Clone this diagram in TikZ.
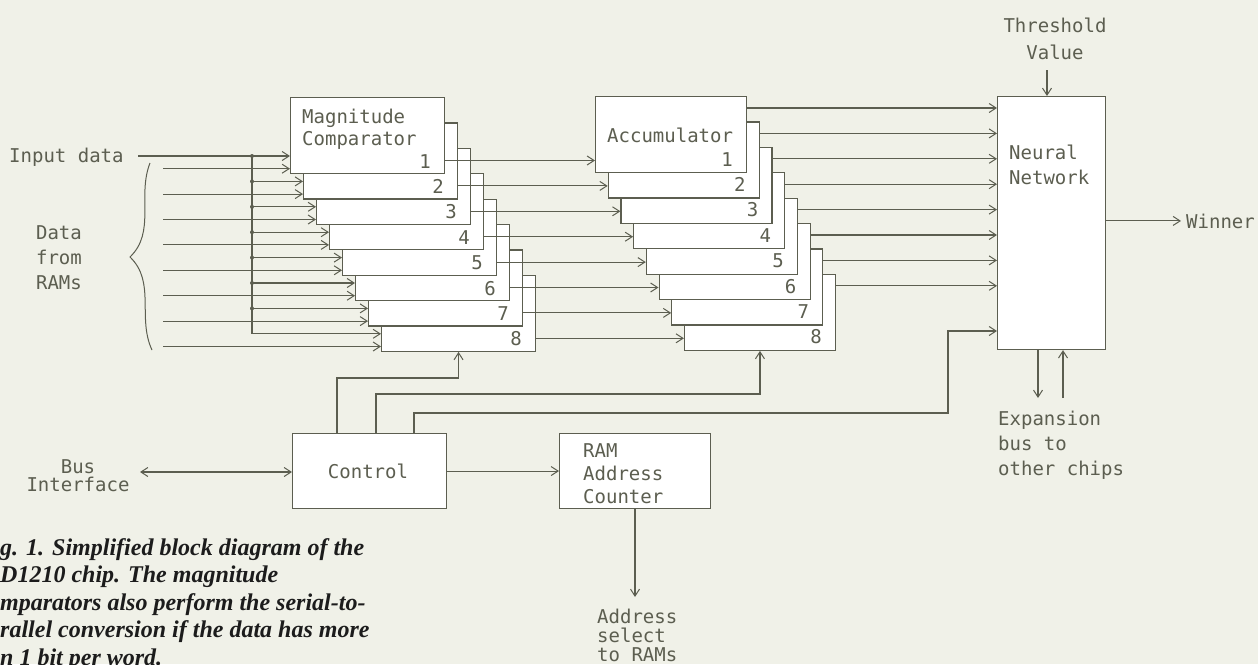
\documentclass[tikz,border=0pt]{standalone}
\usepackage{fontspec}
\setmainfont{Liberation Serif}
\newfontfamily\lero{DejaVu Sans Mono}
\usetikzlibrary{arrows.meta,calc}
\definecolor{bgc}{RGB}{240,241,232}
\definecolor{ink}{RGB}{92,94,80}
\definecolor{capc}{RGB}{28,28,28}
\tikzset{
  box/.style={draw=ink, fill=white, line width=1.1pt, anchor=north west, inner sep=0pt},
  wire/.style={draw=ink, line width=1.1pt},
  arr/.style={wire, -{Straight Barb[length=7pt,width=9pt,line width=1pt]}},
  darr/.style={wire, {Straight Barb[length=7pt,width=9pt,line width=1pt]}-{Straight Barb[length=7pt,width=9pt,line width=1pt]}},
  lbl/.style={text=ink, font=\lero\fontsize{19}{22}\selectfont, inner sep=0pt, anchor=base west},
  lblc/.style={lbl, anchor=base},
  numl/.style={lbl, anchor=base east},
  captxt/.style={text=capc, font=\bfseries\itshape\fontsize{24}{27}\selectfont, inner sep=0pt, anchor=base west},
  jdot/.style={circle, fill=ink, inner sep=0pt, minimum size=4pt},
}
\begin{document}
\begin{tikzpicture}[x=1pt,y=-1pt]
\path[fill=bgc] (0,0) rectangle (1258,664);
\useasboundingbox (0,0) rectangle (1258,664);
\clip (0,0) rectangle (1258,664);

% ---------- comparator stack ----------
\foreach \k in {8,7,...,1}{
  \pgfmathsetmacro\xx{290+13*(\k-1)}
  \pgfmathsetmacro\yy{97+25.4*(\k-1)}
  \node[box, minimum width=154pt, minimum height=76pt] (c\k) at (\xx,\yy) {};
  \node[numl] (cn\k) at ($(c\k.north east)+(-14,71)$) {\k};
}
\node[lbl] (mag1) at (302,123) {Magnitude};
\node[lbl] (mag2) at (302,145) {Comparator};

% ---------- accumulator stack ----------
\foreach \k in {8,7,...,1}{
  \pgfmathsetmacro\xx{595+12.7*(\k-1)}
  \pgfmathsetmacro\yy{96+25.4*(\k-1)}
  \node[box, minimum width=151pt, minimum height=76pt] (a\k) at (\xx,\yy) {};
  \node[numl] (an\k) at ($(a\k.north east)+(-14,70)$) {\k};
}
\node[lbl] (acc) at (607,142) {Accumulator};

% ---------- neural network ----------
\node[box, minimum width=108pt, minimum height=253pt] (nn) at (997,96) {};
\node[lbl] (nn1) at (1009,159) {Neural};
\node[lbl] (nn2) at (1009,184) {Network};
\node[lblc] (thr1) at (1055,32) {Threshold};
\node[lblc] (thr2) at (1055,59) {Value};
\coordinate (thr) at (1047,70);
\draw[arr] (thr) -- (thr |- nn.north);
\node[lbl] (win) at (1186,228) {Winner};
\draw[arr] (nn.east |- win.west) -- ($(win.west)+(-5,0)$);
\coordinate (e1) at (1038,398);
\coordinate (e2) at (1063,398);
\draw[arr] (e1 |- nn.south) -- (e1);
\draw[arr] (e2) -- (e2 |- nn.south);
\node[lbl] (ex1) at (998,425) {Expansion};
\node[lbl] (ex2) at (998,450) {bus to};
\node[lbl] (ex3) at (998,475) {other chips};

% ---------- control and RAM address counter ----------
\node[box, minimum width=154pt, minimum height=75pt] (ctrl) at (292,433) {};
\node[lblc] (ctrlt) at (368,478) {Control};
\node[box, minimum width=151pt, minimum height=75pt] (ram) at (559,433) {};
\node[lbl] (ram1) at (583,457) {RAM};
\node[lbl] (ram2) at (583,480) {Address};
\node[lbl] (ram3) at (583,503) {Counter};
\draw[arr] (ctrl.east) -- (ram.west);
\coordinate (addr) at (635,597);
\draw[arr] (addr |- ram.south) -- (addr);
\node[lbl] (ad1) at (597,623) {Address};
\node[lbl] (ad2) at (597,642) {select};
\node[lbl] (ad3) at (597,661) {to RAMs};

\node[lblc] (bus1) at (78,473) {Bus};
\node[lblc] (bus2) at (78,491) {Interface};
\coordinate (bus) at (140,472);
\draw[darr] (bus) -- (bus -| ctrl.west);

% control routes
\coordinate (k1) at (337,378);
\coordinate (k2) at (376,394);
\coordinate (k3) at (414,413);
\coordinate (k3b) at (948,331);
\draw[arr] (k1 |- ctrl.north) -- (k1) -- (c8.south |- k1) -- (c8.south);
\draw[arr] (k2 |- ctrl.north) -- (k2) -- (a8.south |- k2) -- (a8.south);
\draw[arr] (k3 |- ctrl.north) -- (k3) -- (k3b |- k3) -- (k3b) -- (k3b -| nn.west);

% ---------- inputs ----------
\node[lbl] (inp) at (9,162) {Input data};
\coordinate (indata) at (138,156);
\draw[arr] (indata) -- (indata -| c1.west);
\foreach \k in {1,...,8}{
  \pgfmathsetmacro\yt{156+25.4*(\k-1)}
  \pgfmathsetmacro\yr{168.7+25.4*(\k-1)}
  \coordinate (t\k) at (252,\yt);
  \coordinate (r\k) at (163,\yr);
  \draw[arr] (r\k) -- (r\k -| c\k.west);
}
\foreach \k in {2,...,8}{
  \draw[arr] (t\k) -- (t\k -| c\k.west);
}
\draw[wire] (t1) -- (t8);
\foreach \k in {1,...,7}{
  \node[jdot] (d\k) at (t\k) {};
}
\node[lblc] (dfr1) at (59,239) {Data};
\node[lblc] (dfr2) at (59,264) {from};
\node[lblc] (dfr3) at (59,289) {RAMs};
\draw[wire, line width=1pt] (150,163) .. controls (137,196) and (156,232) .. (130,257)
                               .. controls (156,282) and (137,318) .. (152,350);

% ---------- comparator -> accumulator -> network ----------
\foreach \k in {1,...,8}{
  \coordinate (co\k) at ($(c\k.north east)+(0,63.5)$);
  \draw[arr] (co\k) -- (co\k -| a\k.west);
  \coordinate (ao\k) at ($(a\k.north east)+(0,12)$);
  \draw[arr] (ao\k) -- (ao\k -| nn.west);
}

% ---------- caption ----------
\node[captxt] (cp1) at (0,555) {g. 1. Simplified block diagram of the};
\node[captxt] (cp2) at (0,582.5) {D1210 chip. The magnitude};
\node[captxt] (cp3) at (0,610) {mparators also perform the serial-to-};
\node[captxt] (cp4) at (0,637.5) {rallel conversion if the data has more};
\node[captxt] (cp5) at (0,665) {n 1 bit per word.};
\end{tikzpicture}
\end{document}
